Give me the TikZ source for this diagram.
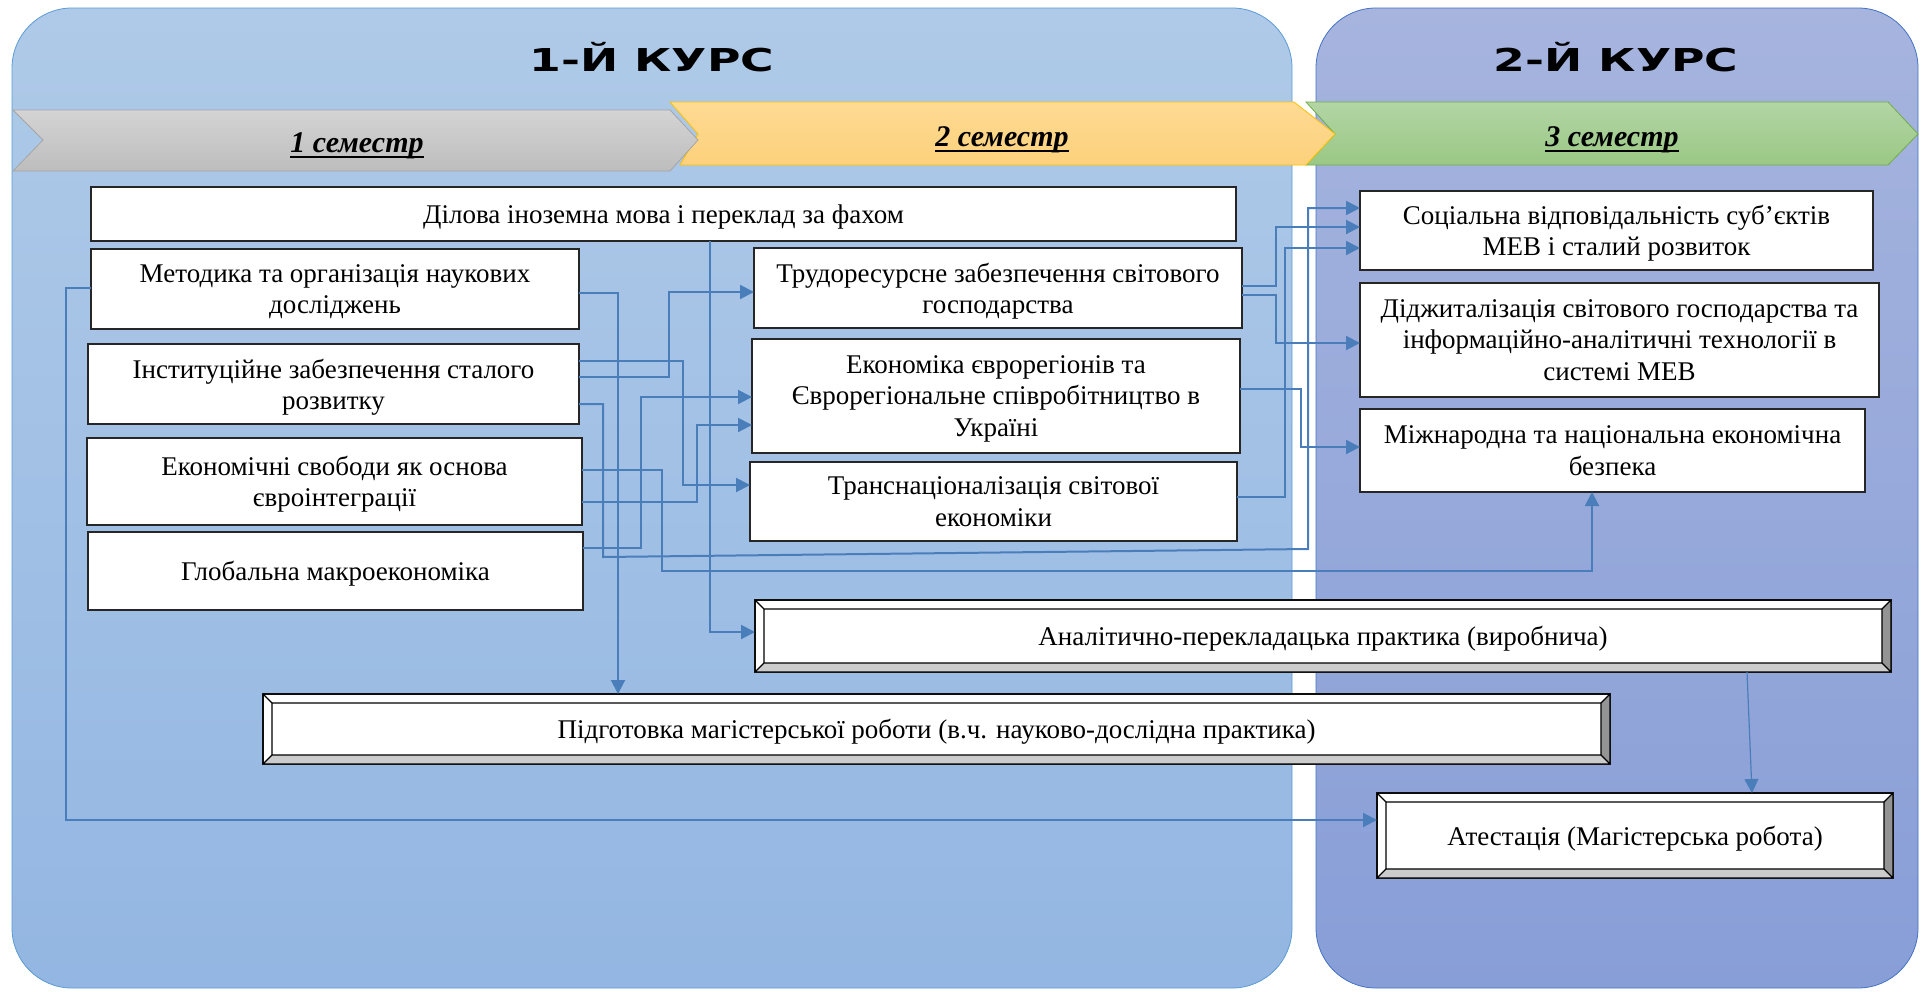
\documentclass[tikz,border=0pt]{standalone}
\usepackage{fontspec}
\setmainfont{Liberation Serif}
\newfontfamily\kursfont{DejaVu Sans}[FakeStretch=1.45]
\usetikzlibrary{arrows.meta}
\definecolor{lnk}{HTML}{4A7EBB}
\definecolor{panelA}{HTML}{AFCAE8}
\definecolor{panelAb}{HTML}{93B6E2}
\definecolor{panelAd}{HTML}{5B9BD5}
\definecolor{panelB}{HTML}{A6B4DE}
\definecolor{panelBb}{HTML}{889ED7}
\definecolor{panelBd}{HTML}{4472C4}
\definecolor{semA}{HTML}{D4D4D4}
\definecolor{semAb}{HTML}{BDBDBD}
\definecolor{semAd}{HTML}{A5A5A5}
\definecolor{semB}{HTML}{FEDA93}
\definecolor{semBb}{HTML}{FDD17C}
\definecolor{semBd}{HTML}{FFC000}
\definecolor{semC}{HTML}{B3D5A5}
\definecolor{semCb}{HTML}{9AC884}
\definecolor{semCd}{HTML}{70AD47}
\newsavebox\sembox
\newcommand\semul[1]{\sbox\sembox{#1}\rlap{\rule[-2.6pt]{\wd\sembox}{1.1pt}}\usebox\sembox}
\newlength\bevw
\setlength\bevw{4.5pt}
\newcommand\bevel[1]{%
  \fill[black!20] (#1.south west) -- (#1.south east) -- ([shift={(-\bevw,\bevw)}]#1.south east) -- ([shift={(\bevw,\bevw)}]#1.south west) -- cycle;
  \fill[black!42] (#1.south east) -- (#1.north east) -- ([shift={(-\bevw,-\bevw)}]#1.north east) -- ([shift={(-\bevw,\bevw)}]#1.south east) -- cycle;
  \draw[line width=0.6pt] ([shift={(\bevw,\bevw)}]#1.south west) rectangle ([shift={(-\bevw,-\bevw)}]#1.north east)
    (#1.south west) -- ++(\bevw,\bevw) (#1.north west) -- ++(\bevw,-\bevw)
    (#1.north east) -- ++(-\bevw,-\bevw) (#1.south east) -- ++(-\bevw,\bevw)
    (#1.south west) rectangle (#1.north east);}
\begin{document}
\begin{tikzpicture}[x=0.5pt, y=-0.5pt, >={Triangle[length=7pt,width=7pt]},
    font=\fontsize{13.5}{15.6}\selectfont,
    box/.style={draw=black!85, line width=0.6pt, fill=white, align=center, inner sep=0pt, outer sep=0pt, text depth=-2.5pt},
    link/.style={->, draw=lnk, line width=1pt},
    sem/.style={font=\fontsize{15}{18}\selectfont\bfseries\itshape},
    kurs/.style={font=\kursfont\fontsize{15.75}{18}\selectfont\bfseries}]
    \useasboundingbox (0,0) rectangle (1921,991);
    \draw[draw=panelAd, top color=panelA, bottom color=panelAb, rounded corners=30pt] (12,8) rectangle (1292,988);
    \draw[draw=panelBd, top color=panelB, bottom color=panelBb, rounded corners=30pt] (1316,8) rectangle (1918,988);
    \node[kurs] (k1) at (652,57) {1-Й КУРС};
    \node[kurs] (k2) at (1616,57) {2-Й КУРС};
    \draw[draw=semCd, top color=semC, bottom color=semCb] (1306,102)--(1888,102)--(1918,134)--(1888,165)--(1306,165)--(1335,134)--cycle;
    \draw[draw=semBd, top color=semB, bottom color=semBb] (670,102)--(1294,102)--(1335,134)--(1306,165)--(680,165)--(698,134)--cycle;
    \draw[draw=semAd, top color=semA, bottom color=semAb] (13,110)--(670,110)--(698,140)--(670,171)--(13,171)--(43,140)--cycle;
    \node[sem] (s1) at (357,146) {\semul{1 семестр}};
    \node[sem] (s2) at (1002,140) {\semul{2 семестр}};
    \node[sem] (s3) at (1612,140) {\semul{3 семестр}};
    \node[box, minimum width=572.5pt, minimum height=27pt] (dilova) at (663.5,214) {Ділова іноземна мова і переклад за фахом};
    \node[box, minimum width=244pt, minimum height=40pt] (metod) at (335,289) {Методика та організація наукових\\досліджень};
    \node[box, minimum width=245.5pt, minimum height=40pt] (inst) at (333.5,384) {Інституційне забезпечення сталого\\розвитку};
    \node[box, minimum width=247.5pt, minimum height=43.5pt] (ekon) at (334.5,481.5) {Економічні свободи як основа\\євроінтеграції};
    \node[box, minimum width=247.5pt, minimum height=39pt] (glob) at (335.5,571) {Глобальна макроекономіка};
    \node[box, minimum width=244pt, minimum height=40pt] (trud) at (998,288) {Трудоресурсне забезпечення світового\\господарства};
    \node[box, minimum width=244pt, minimum height=57pt] (euro) at (996,396) {Економіка єврорегіонів та\\Єврорегіональне співробітництво в\\Україні};
    \node[box, minimum width=243.5pt, minimum height=39.5pt] (trans) at (993.5,501.5) {Транснаціоналізація світової\\економіки};
    \node[box, minimum width=256.5pt, minimum height=39.5pt] (soc) at (1616.5,230.5) {Соціальна відповідальність суб’єктів\\МЕВ і сталий розвиток};
    \node[box, minimum width=259.5pt, minimum height=57pt] (digit) at (1619.5,340) {Діджиталізація світового господарства та\\інформаційно-аналітичні технології в\\системі МЕВ};
    \node[box, minimum width=252.5pt, minimum height=41.5pt] (mizh) at (1612.5,450.5) {Міжнародна та національна економічна\\безпека};
    \node[box, minimum width=568pt, minimum height=36pt] (anal) at (1323,636) {Аналітично-перекладацька практика (виробнича)};
    \bevel{anal}
    \node[box, minimum width=673.5pt, minimum height=35pt] (pidg) at (936.5,729) {Підготовка магістерської роботи (в.ч. науково-дослідна практика)};
    \bevel{pidg}
    \node[box, minimum width=258pt, minimum height=42.5pt] (atest) at (1635,835.5) {Атестація (Магістерська робота)};
    \bevel{atest}
    \draw[link] (metod.west |- 0,288) -| (66,820) -- (atest.west |- 0,820);
    \draw[link] (metod.east |- 0,293) -| (618,0 |- pidg.north);
    \draw[link] (inst.east |- 0,361) -| (683,485) -- (trans.west |- 0,485);
    \draw[link] (inst.east |- 0,377) -| (669,292) -- (trud.west |- 0,292);
    \draw[link] (inst.east |- 0,404) -| (603,557) -- (1308,549) |- (soc.west |- 0,208);
    \draw[link] (ekon.east |- 0,470) -| (662,571) -| (1592,0 |- mizh.south);
    \draw[link] (ekon.east |- 0,502) -| (697,425) -- (euro.west |- 0,425);
    \draw[link] (glob.east |- 0,548) -| (641,397) -- (euro.west |- 0,397);
    \draw[link] (710,0 |- dilova.south) |- (anal.west |- 0,632);
    \draw[link] (trud.east |- 0,286) -| (1276,227) -- (soc.west |- 0,227);
    \draw[link] (trud.east |- 0,295) -| (1276,343) -- (digit.west |- 0,343);
    \draw[link] (trans.east |- 0,497) -| (1285,248) -- (soc.west |- 0,248);
    \draw[link] (euro.east |- 0,389) -| (1301,447) -- (mizh.west |- 0,447);
    \draw[link, line width=0.6pt] (1747,0 |- anal.south) -- (1752,0 |- atest.north);
\end{tikzpicture}
\end{document}
